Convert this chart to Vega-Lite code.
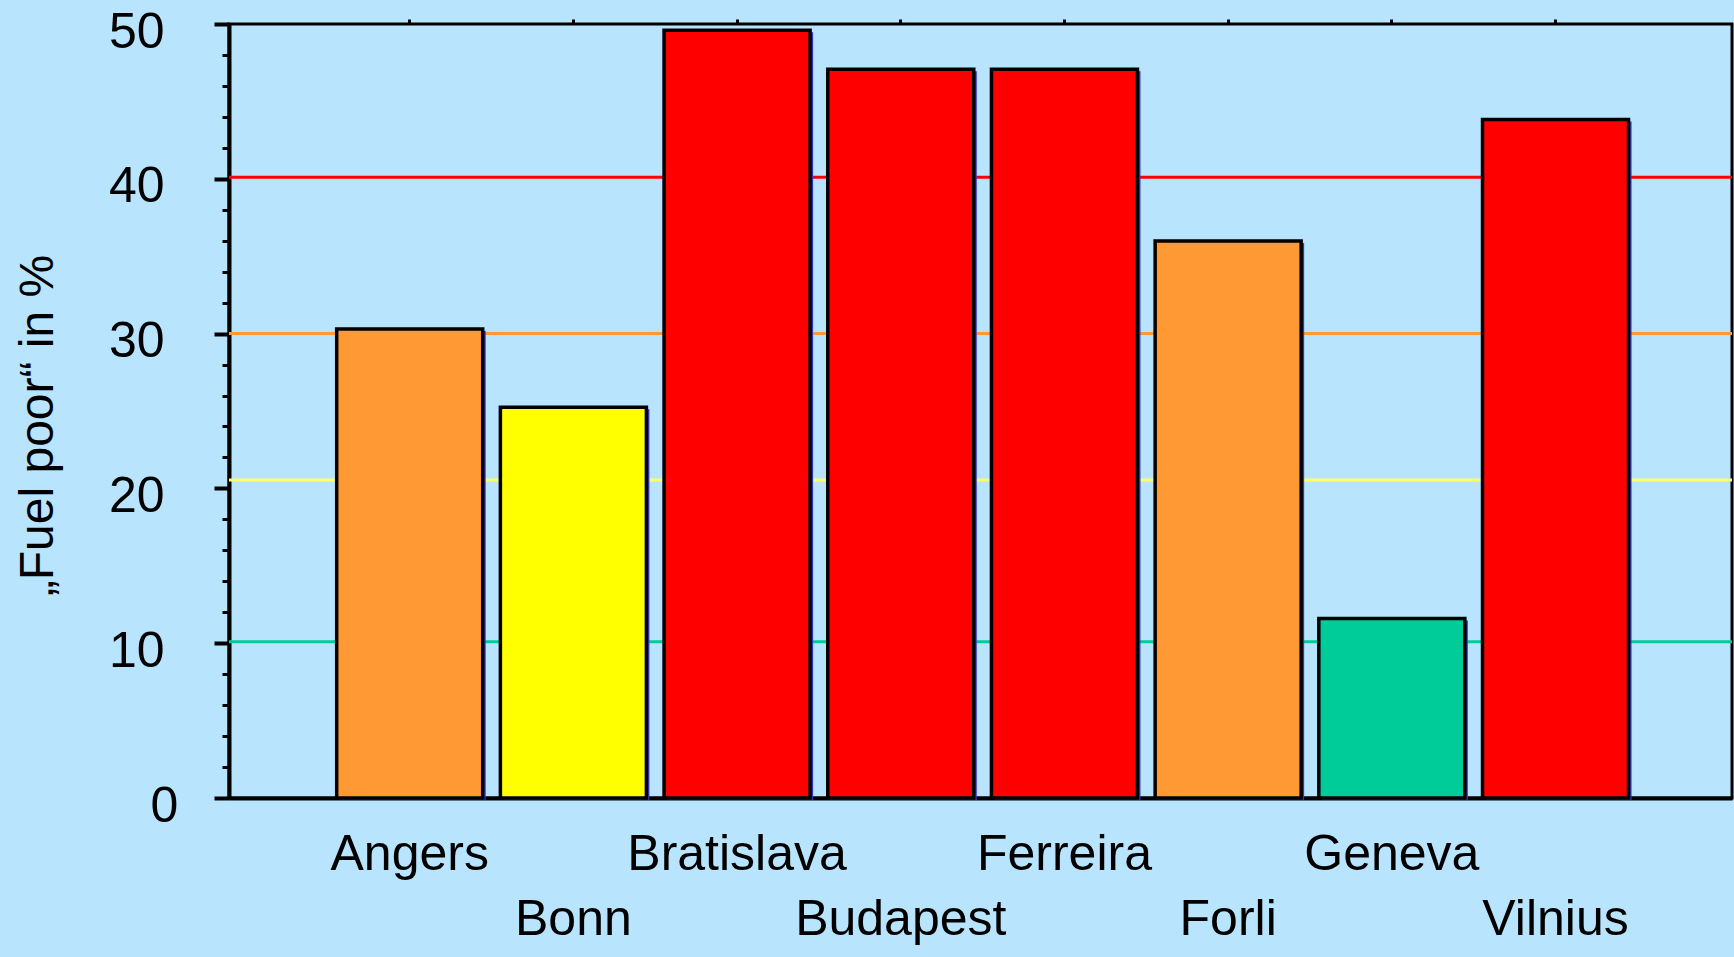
{
  "$schema": "https://vega.github.io/schema/vega-lite/v6.json",
  "width": 1503,
  "height": 774,
  "autosize": {"type": "none"},
  "padding": {"left": 229, "top": 24, "right": 2, "bottom": 159},
  "background": "#B8E4FE",
  "config": {
    "view": {"stroke": "black", "strokeWidth": 3},
    "font": "Liberation Sans"
  },
  "datasets": {
    "cities": [
      {"city": "Angers", "share": 30.3, "level": "30-40"},
      {"city": "Bonn", "share": 25.25, "level": "20-30"},
      {"city": "Bratislava", "share": 49.6, "level": "40+"},
      {"city": "Budapest", "share": 47.07, "level": "40+"},
      {"city": "Ferreira", "share": 47.07, "level": "40+"},
      {"city": "Forli", "share": 35.98, "level": "30-40"},
      {"city": "Geneva", "share": 11.6, "level": "10-20"},
      {"city": "Vilnius", "share": 43.83, "level": "40+"}
    ],
    "thresholds": [
      {"threshold": 40.1, "level": "40+"},
      {"threshold": 30.0, "level": "30-40"},
      {"threshold": 20.55, "level": "20-30"},
      {"threshold": 10.1, "level": "10-20"}
    ]
  },
  "resolve": {"axis": {"x": "independent", "y": "independent"}},
  "layer": [
    {
      "data": {"name": "thresholds"},
      "mark": {"type": "rule", "strokeWidth": 3},
      "encoding": {
        "y": {
          "field": "threshold", "type": "quantitative",
          "scale": {"domain": [0, 50], "nice": false},
          "axis": {
            "orient": "left",
            "values": [2, 4, 6, 8, 12, 14, 16, 18, 22, 24, 26, 28, 32, 34, 36, 38, 42, 44, 46, 48],
            "labels": false, "domain": false, "grid": false, "title": null,
            "tickSize": 7, "tickWidth": 3, "tickColor": "black"
          }
        },
        "stroke": {
          "field": "level", "type": "nominal", "legend": null,
          "scale": {"domain": ["40+", "30-40", "20-30", "10-20"], "range": ["#FF0000", "#FF9933", "#FFFF66", "#00CC99"]}
        }
      }
    },
    {
      "data": {"name": "cities"},
      "mark": {"type": "bar", "fill": "#3333CC", "xOffset": 3, "yOffset": 2},
      "encoding": {
        "x": {
          "field": "city", "type": "nominal", "sort": null,
          "scale": {"paddingInner": 0.108, "paddingOuter": 0.645, "align": 0.51},
          "axis": {"orient": "top", "title": null, "labels": false, "domain": false, "ticks": true, "tickSize": 5, "tickWidth": 3, "tickColor": "black", "grid": false}
        },
        "y": {"field": "share", "type": "quantitative", "scale": {"domain": [0, 50], "nice": false}, "axis": null}
      }
    },
    {
      "data": {"name": "cities"},
      "mark": {"type": "bar", "stroke": "black", "strokeWidth": 3.5},
      "encoding": {
        "x": {
          "field": "city", "type": "nominal", "sort": null,
          "scale": {"paddingInner": 0.108, "paddingOuter": 0.645, "align": 0.51},
          "axis": {
            "orient": "bottom", "title": null, "labelAngle": 0, "ticks": false,
            "domainColor": "black", "domainWidth": 4,
            "labelFontSize": 50, "labelColor": "black", "labelFont": "Liberation Sans",
            "labelPadding": 31, "labelLineHeight": 65, "labelBaseline": "top", "labelLimit": 0,
            "labelExpr": "indexof(['Bonn','Budapest','Forli','Vilnius'], datum.label) >= 0 ? ['', datum.label] : datum.label",
            "grid": false
          }
        },
        "y": {
          "field": "share", "type": "quantitative",
          "scale": {"domain": [0, 50], "nice": false},
          "axis": {
            "orient": "left",
            "values": [0, 10, 20, 30, 40, 50],
            "tickSize": 15, "tickWidth": 4, "tickColor": "black",
            "labelAlign": {"condition": {"test": "datum.value === 0", "value": "center"}, "value": "right"},
            "domainColor": "black", "domainWidth": 4,
            "labelFontSize": 50, "labelColor": "black", "labelFont": "Liberation Sans",
            "labelPadding": 50, "labelOffset": 8, "labelFlush": false, "labelOverlap": false,
            "grid": false,
            "title": "„Fuel poor“ in %",
            "titleFontSize": 48, "titleFont": "Liberation Sans", "titleFontWeight": "normal", "titleColor": "black",
            "titleAngle": 270, "titleAlign": "center", "titleBaseline": "middle",
            "titleX": -191, "titleY": 401
          }
        },
        "fill": {
          "field": "level", "type": "nominal", "legend": null,
          "scale": {"domain": ["40+", "30-40", "20-30", "10-20"], "range": ["#FF0000", "#FF9933", "#FFFF00", "#00CC99"]}
        }
      }
    }
  ]
}
